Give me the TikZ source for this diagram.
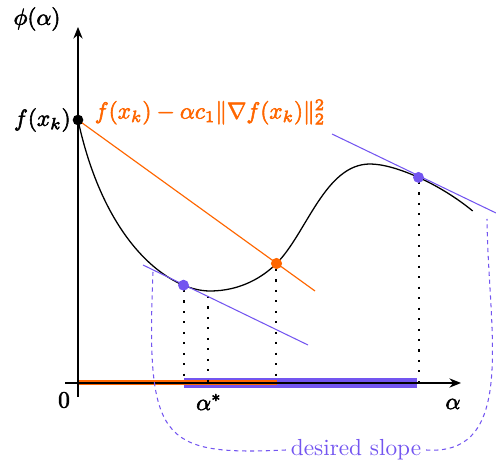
\documentclass[tikz,border=0pt]{standalone}
\usetikzlibrary{arrows.meta}
\definecolor{myorange}{RGB}{255,102,0}
\definecolor{mypurple}{RGB}{115,85,240}
\newcommand\heavytext[1]{\special{pdf:literal direct 2 Tr 0.25 w}#1\special{pdf:literal direct 0 Tr}}
\begin{document}
\begin{tikzpicture}[x=0.43pt,y=-0.43pt,
  axis/.style={line width=0.55pt,-{Stealth[length=5pt,width=4pt]}},
  curve/.style={line width=0.55pt},
  tangent/.style={mypurple,line width=0.45pt},
  orangeline/.style={myorange,line width=0.5pt},
  guide/.style={line width=1pt,dash pattern=on 0.9pt off 3.6pt},
  slopelink/.style={mypurple,line width=0.45pt,dash pattern=on 1.8pt off 1.6pt},
  dot/.style={circle,inner sep=0pt,minimum size=#1},
  lab/.style={inner sep=1pt}]
\useasboundingbox (0,0) rectangle (496,463);
% bars
\draw[mypurple,line width=4.4pt] (184,383.3) -- (417,383.3);
\draw[myorange,line width=2.3pt] (77,382.3) -- (277,382.3);
% axes
\coordinate (xl) at (65,383);
\coordinate (xr) at (461,383);
\coordinate (yb) at (78,397);
\coordinate (yt) at (78,27);
\draw[axis] (xl) -- (xr);
\draw[axis] (yb) -- (yt);
% points
\coordinate (P0) at (78,120);
\coordinate (P1) at (183.5,285.2);
\coordinate (Pm) at (210,291);
\coordinate (P2) at (276.5,263.5);
\coordinate (Px) at (370,164);
\coordinate (P3) at (418.5,177.4);
\coordinate (Pe) at (472.7,211);
% dotted guides
\draw[guide] (184,290) -- (184,383);
\draw[guide] (208,296) -- (208,383);
\draw[guide] (276,269) -- (276,383);
\draw[guide] (419,182) -- (419,383);
% curve
\draw[curve] (P0) .. controls (105,245) and (170,291) .. (Pm)
  .. controls (240,291) and (262.5,277.5) .. (P2)
  .. controls (306.5,233.5) and (325,164) .. (Px)
  .. controls (395,164) and (440,184) .. (Pe);
% orange line
\coordinate (oe) at (315,291);
\draw[orangeline] (P0) -- (oe);
% tangents
\coordinate (t1a) at (143,265);
\coordinate (t1b) at (308,345);
\coordinate (t2a) at (332,134);
\coordinate (t2b) at (496,213);
\draw[tangent] (t1a) -- (t1b);
\draw[tangent] (t2a) -- (t2b);
% dots
\node[dot=4.6pt,fill=black] (d0) at (P0) {};
\node[dot=4.8pt,fill=myorange] (d2) at (P2) {};
\node[dot=4.7pt,fill=mypurple] (d1) at (P1) {};
\node[dot=4.7pt,fill=mypurple] (d3) at (P3) {};
% labels
\node[lab] (phi) at (37,19) {\heavytext{$\phi(\alpha)$}};
\node[lab,anchor=east] (fx) at (73.5,120) {\heavytext{$f(x_k)$}};
\node[lab,anchor=west,text=myorange] (armijo) at (92,112) {\heavytext{$f(x_k)-\alpha c_1\|\nabla f(x_k)\|_2^2$}};
\node[lab] (zero) at (64,400) {\heavytext{$0$}};
\node[lab] (astar) at (209,402) {\heavytext{$\alpha^*$}};
\node[lab] (alab) at (453,404) {\heavytext{$\alpha$}};
\node[lab,text=mypurple,inner sep=2pt] (ds) at (356,450) {desired slope};
% dashed links
\coordinate (s1) at (153,272);
\coordinate (s2) at (487,219);
\draw[slopelink] (ds.west) .. controls (160,456) and (146,440) .. (s1);
\draw[slopelink] (ds.east) .. controls (518,456) and (488,330) .. (s2);
\end{tikzpicture}
\end{document}
